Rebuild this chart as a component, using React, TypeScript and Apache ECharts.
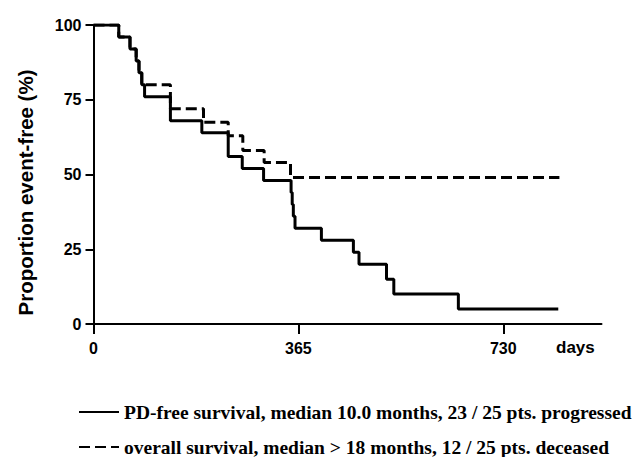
import React, { useEffect, useRef } from "react";
import * as echarts from "echarts";

// Kaplan-Meier step points: days and percent event-free
const pfsDays = [0, 45, 65, 76, 81, 86, 91, 137, 193, 240, 265, 303, 352, 354, 356, 359, 406, 463, 473, 522, 535, 650, 828];
const pfsValues = [100, 96, 92, 88, 84, 80, 76, 68, 64, 56, 52, 48, 44, 40, 36, 32, 28, 24, 20, 15, 10, 5, 5];

const osDays = [0, 45, 65, 76, 81, 86, 137, 196, 240, 266, 304, 351, 830];
const osValues = [100, 96, 92, 88, 84, 80, 72, 67.5, 63, 58, 54, 49, 49];

const xTicks = [0, 365, 730];
const yTicks = [0, 25, 50, 75, 100];

const pfsName = "PD-free survival, median 10.0 months, 23 / 25 pts. progressed";
const osName = "overall survival, median > 18 months, 12 / 25 pts. deceased";
const xName = "days";
const yName = "Proportion event-free (%)";

export default function App() {
  const ref = useRef<HTMLDivElement>(null);
  useEffect(() => {
    if (!ref.current) return;
    const chart = echarts.init(ref.current, undefined, { renderer: "svg" });
    const sans = "Liberation Sans, Arial, sans-serif";
    const serif = "Liberation Serif, Times New Roman, serif";
    const legendBase = {
      orient: "horizontal",
      left: 78,
      padding: 0,
      itemWidth: 40,
      itemHeight: 14,
      itemStyle: { opacity: 0 },
      textStyle: { fontFamily: serif, fontWeight: "bold", fontSize: 19.5, color: "#000" },
    };
    chart.setOption({
      animation: false,
      backgroundColor: "#ffffff",
      grid: { left: 93.5, top: 25, width: 508, height: 299 },
      legend: [
        { ...legendBase, top: 402, data: [pfsName] },
        { ...legendBase, top: 437, data: [osName] },
      ],
      graphic: [
        {
          type: "text",
          left: 556,
          top: 339,
          style: {
            text: xName,
            fontFamily: sans,
            fontWeight: "bold",
            fontSize: 17,
            fill: "#000",
          },
        },
      ],
      xAxis: {
        type: "value",
        min: 0,
        max: 905,
        splitLine: { show: false },
        axisLine: { lineStyle: { color: "#000", width: 2 } },
        axisTick: { length: 10, lineStyle: { color: "#000", width: 2 }, customValues: xTicks },
        axisLabel: {
          customValues: xTicks,
          margin: 16,
          fontFamily: sans,
          fontWeight: "bold",
          fontSize: 16,
          color: "#000",
        },
      },
      yAxis: {
        type: "value",
        min: 0,
        max: 100,
        interval: 25,
        name: yName,
        nameLocation: "middle",
        nameGap: 58,
        nameTextStyle: {
          fontFamily: sans,
          fontWeight: "bold",
          fontSize: 20.5,
          color: "#000",
          padding: [0, 36, 0, 0],
        },
        splitLine: { show: false },
        axisLine: { show: true, lineStyle: { color: "#000", width: 2 } },
        axisTick: { show: true, length: 8, lineStyle: { color: "#000", width: 2 } },
        axisLabel: {
          margin: 12,
          fontFamily: sans,
          fontWeight: "bold",
          fontSize: 16,
          color: "#000",
          formatter: (v: number) => (yTicks.includes(v) ? String(v) : ""),
        },
      },
      series: [
        {
          name: osName,
          type: "line",
          step: "end",
          symbol: "none",
          z: 2,
          data: osDays.map((d, i) => [d, osValues[i]]),
          lineStyle: { color: "#000", width: 3, type: [11, 5] },
          itemStyle: { color: "#000" },
        },
        {
          name: pfsName,
          type: "line",
          step: "end",
          symbol: "none",
          z: 3,
          data: pfsDays.map((d, i) => [d, pfsValues[i]]),
          lineStyle: { color: "#000", width: 3, type: "solid" },
          itemStyle: { color: "#000" },
        },
      ],
    });
    return () => chart.dispose();
  }, []);
  return (
    <div
      ref={ref}
      style={{ position: "fixed", left: 0, top: 0, width: 643, height: 457, background: "#fff" }}
    />
  );
}
